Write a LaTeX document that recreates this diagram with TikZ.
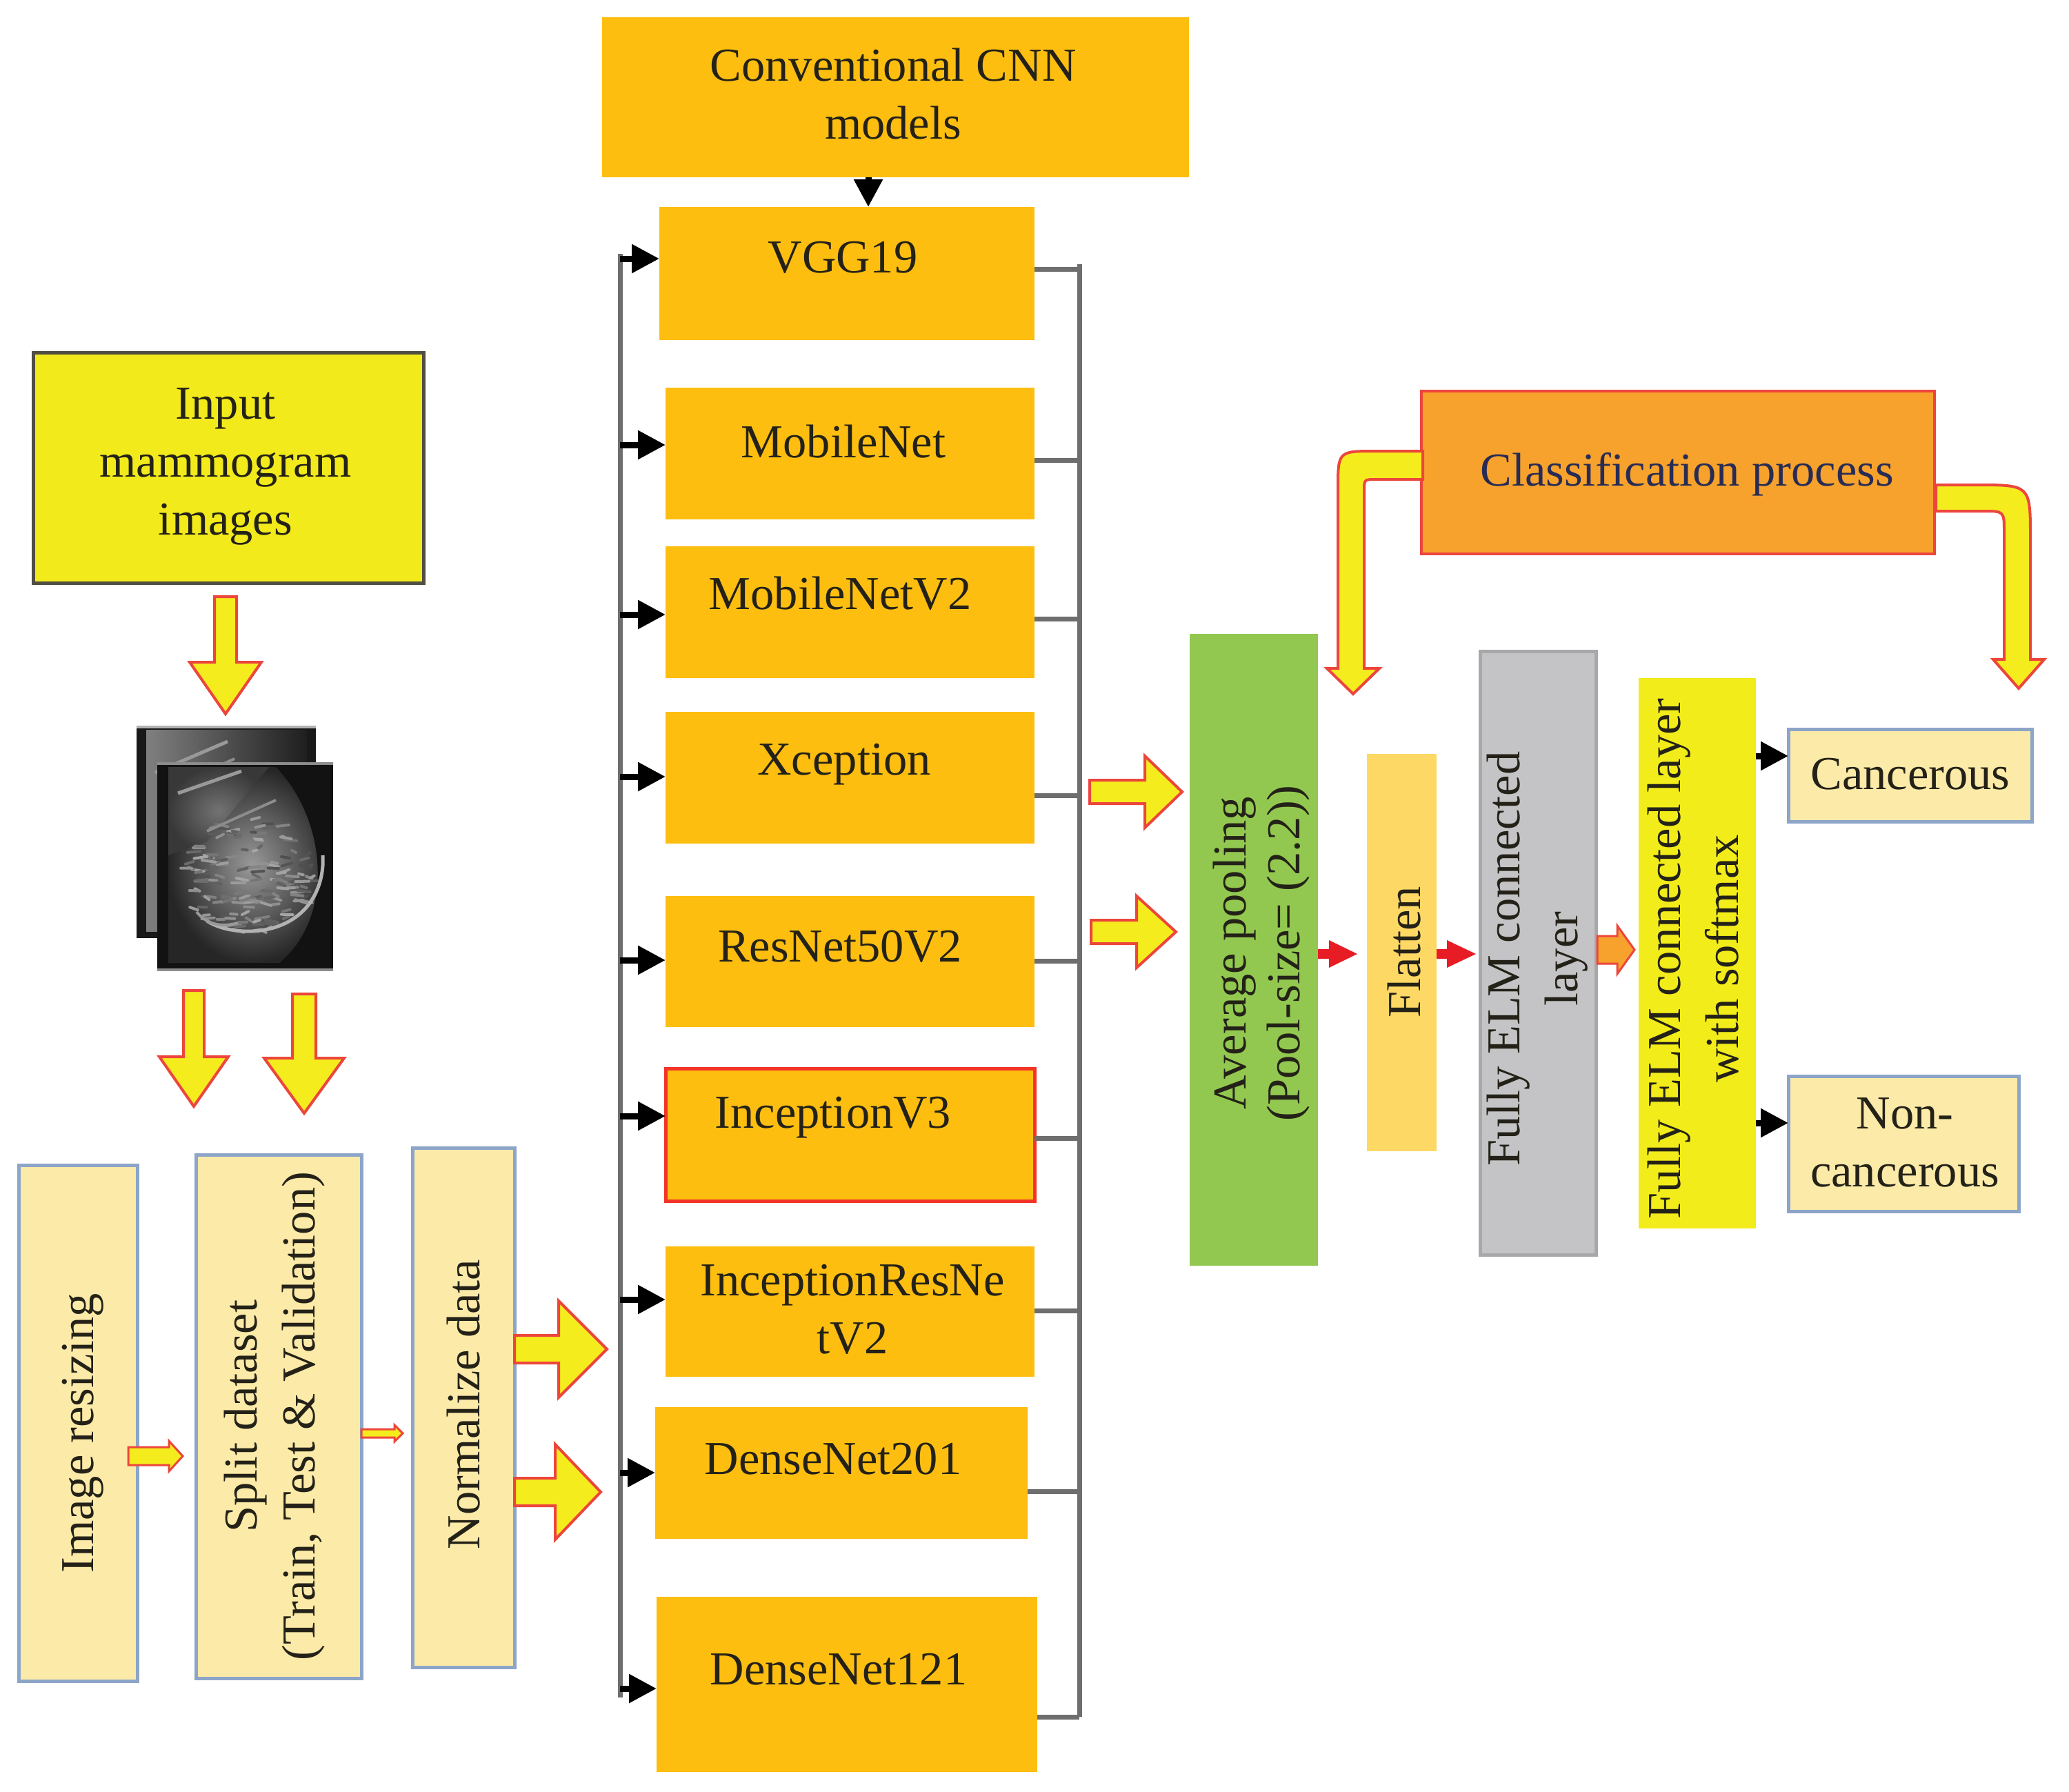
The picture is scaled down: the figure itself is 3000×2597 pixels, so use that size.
\documentclass[tikz,border=0pt]{standalone}
\usepackage{fontspec}
\setmainfont{Liberation Serif}
\usetikzlibrary{arrows.meta}
\definecolor{cnnc}{RGB}{253,190,16}
\definecolor{inyel}{RGB}{242,234,26}
\definecolor{inbord}{RGB}{80,78,66}
\definecolor{lyel}{RGB}{252,234,168}
\definecolor{lbord}{RGB}{140,165,200}
\definecolor{grn}{RGB}{146,200,80}
\definecolor{flat}{RGB}{254,216,100}
\definecolor{elmg}{RGB}{196,196,198}
\definecolor{elmb}{RGB}{168,168,170}
\definecolor{sfy}{RGB}{242,236,26}
\definecolor{clso}{RGB}{247,162,44}
\definecolor{redb}{RGB}{236,70,60}
\definecolor{redbox}{RGB}{242,52,40}
\definecolor{arry}{RGB}{245,236,30}
\definecolor{linec}{RGB}{110,110,110}
\definecolor{tx}{RGB}{36,34,24}
\definecolor{navy}{RGB}{40,44,85}
\definecolor{redarr}{RGB}{232,28,36}
\newcommand\myHarrow[7]{% style, x1, y, x2, shaft half, head half, head len
 \filldraw[#1] (#2,#3-#5) -- (#4-#7,#3-#5) -- (#4-#7,#3-#6) -- (#4,#3) -- (#4-#7,#3+#6) -- (#4-#7,#3+#5) -- (#2,#3+#5) -- cycle;}
\newcommand\myVarrow[7]{% style, x, y1, y2, shaft half, head half, head len
 \filldraw[#1] (#2-#5,#3) -- (#2-#5,#4-#7) -- (#2-#6,#4-#7) -- (#2,#4) -- (#2+#6,#4-#7) -- (#2+#5,#4-#7) -- (#2+#5,#3) -- cycle;}
\newcommand\myBox[6]{% name, style, x1, y1, x2, y2
 \node[#2, minimum width={(#5)-(#3)}, minimum height={(#6)-(#4)}] (#1) at ({((#3)+(#5))/2},{((#4)+(#6))/2}) {};}
\begin{document}
\begin{tikzpicture}[x=1pt,y=-1pt,
 box/.style={inner sep=0pt,outer sep=0pt,rectangle},
 cnn/.style={box,fill=cnnc},
 inbox/.style={box,fill=inyel,draw=inbord,line width=5pt},
 lbox/.style={box,fill=lyel,draw=lbord,line width=5pt},
 avgbox/.style={box,fill=grn},
 flatbox/.style={box,fill=flat},
 elmbox/.style={box,fill=elmg,draw=elmb,line width=5pt},
 softbox/.style={box,fill=sfy},
 clsbox/.style={box,fill=clso,draw=redb,line width=4pt},
 txt/.style={text=tx,font=\fontsize{68.5}{84}\selectfont,align=center,inner sep=0pt},
 vtxt/.style={txt,rotate=90},
 blk/.style={draw=black,line width=9pt,-{Triangle[length=40pt,width=40pt]}},
 conn/.style={draw=linec,line width=7pt},
 barrow/.style={fill=arry,draw=redb,line width=4pt,line join=miter},
 thinbarrow/.style={fill=arry,draw=redb,line width=3pt,line join=miter},
 redsolid/.style={fill=redarr,draw=none},
 orarrow/.style={fill=clso,draw=redb,line width=3pt,line join=miter},
]
\useasboundingbox (0,0) rectangle (3000,2597);
\fill[white] (0,0) rectangle (3000,2597);

% ---------- left column ----------
\myBox{input}{inbox}{48}{511}{614}{845}
\myBox{resize}{lbox}{27}{1689}{199}{2437}
\myBox{split}{lbox}{284}{1674}{524}{2433}
\myBox{norm}{lbox}{598}{1664}{746}{2417}

% mammogram images
\pgfmathsetseed{11}
\fill[black!90] (198,1052) rectangle (458,1360);
\shade[left color=black!50, right color=black!88] (212,1058) rectangle (445,1350);
\draw[black!30,line width=4pt] (198,1054) -- (458,1054);
\draw[black!40,line width=5pt] (225,1120) -- (330,1075);
\draw[black!45,line width=4pt] (230,1150) -- (340,1100);
\fill[black!93] (228,1105) rectangle (483,1408);
\draw[black!45,line width=4pt] (228,1107) -- (483,1107);
\draw[black!45,line width=4pt] (228,1406) -- (483,1406);
\shade[inner color=black!40, outer color=black!85] (244,1112) -- (400,1112) .. controls (475,1190) and (485,1330) .. (405,1396) -- (244,1396) -- cycle;
\shade[inner color=black!55, outer color=black!78] (244,1112) -- (390,1112) -- (300,1220) -- (244,1240) -- cycle;
\foreach \i in {1,...,160}{
  \pgfmathsetmacro{\ang}{360*rnd}
  \pgfmathsetmacro{\rr}{sqrt(rnd)}
  \pgfmathsetmacro{\px}{355+95*\rr*cos(\ang)}
  \pgfmathsetmacro{\py}{1270+85*\rr*sin(\ang)}
  \pgfmathsetmacro{\gr}{35+35*rnd}
  \pgfmathsetmacro{\dx}{6+14*rnd}
  \pgfmathsetmacro{\dy}{-5+10*rnd}
  \draw[black!\gr,line width=4pt,line cap=round] (\px,\py) -- ++(\dx,\dy);
}
\draw[black!40,line width=5pt] (258,1150) -- (350,1118);
\draw[black!45,line width=4pt] (300,1205) -- (400,1160);
\draw[black!30,line width=5pt] (300,1335) .. controls (330,1355) and (400,1360) .. (440,1320) .. controls (460,1300) and (470,1270) .. (468,1240);
\draw[black!40,line width=4pt] (285,1322) .. controls (300,1340) and (320,1345) .. (345,1338);

% yellow block arrows (left)
\myVarrow{barrow}{327}{865}{1035}{16}{52}{75}
\myVarrow{barrow}{281}{1436}{1604}{15}{50}{72}
\myVarrow{barrow}{441}{1441}{1614}{17}{58}{80}
\myHarrow{thinbarrow}{186}{2111}{265}{13}{22}{20}
\myHarrow{thinbarrow}{524}{2078}{584}{6}{12}{12}
\myHarrow{barrow}{746}{1956}{880}{20}{70}{70}
\myHarrow{barrow}{746}{2163}{871}{20}{69}{66}

% ---------- CNN column ----------
\myBox{cnntop}{cnn}{873}{25}{1724}{257}
\myBox{vgg}{cnn}{956}{300}{1500}{493}
\myBox{mob}{cnn}{965}{562}{1500}{753}
\myBox{mobb}{cnn}{965}{792}{1500}{983}
\myBox{xcep}{cnn}{965}{1032}{1500}{1223}
\myBox{res}{cnn}{965}{1299}{1500}{1489}
\myBox{incv}{cnn,draw=redbox,line width=5pt}{965}{1549}{1500}{1741}
\myBox{incres}{cnn}{965}{1807}{1500}{1996}
\myBox{dtwo}{cnn}{950}{2040}{1490}{2231}
\myBox{done}{cnn}{952}{2315}{1504}{2569}

\coordinate (lt) at (899,368);
\coordinate (lb) at (899,2461);
\coordinate (rt) at (1565,383);
\coordinate (rb) at (1565,2489);
\draw[conn] (lt) -- (lb);
\draw[conn] (rt) -- (rb);

\draw[blk] (cnntop.south -| 1259,0) -- (vgg.north -| 1259,0);

\draw[blk] (lt |- 0,375) -- (vgg.west |- 0,375);
\draw[blk] (lt |- 0,645) -- (mob.west |- 0,645);
\draw[blk] (lt |- 0,891) -- (mobb.west |- 0,891);
\draw[blk] (lt |- 0,1126) -- (xcep.west |- 0,1126);
\draw[blk] (lt |- 0,1392) -- (res.west |- 0,1392);
\draw[blk] (lt |- 0,1618) -- (incv.west |- 0,1618);
\draw[blk] (lt |- 0,1884) -- (incres.west |- 0,1884);
\draw[blk] (lt |- 0,2135) -- (dtwo.west |- 0,2135);
\draw[blk] (lt |- 0,2448) -- (done.west |- 0,2448);

\draw[conn] (vgg.east |- 0,390) -- (rt |- 0,390);
\draw[conn] (mob.east |- 0,667) -- (rt |- 0,667);
\draw[conn] (mobb.east |- 0,897) -- (rt |- 0,897);
\draw[conn] (xcep.east |- 0,1153) -- (rt |- 0,1153);
\draw[conn] (res.east |- 0,1393) -- (rt |- 0,1393);
\draw[conn] (incv.east |- 0,1650) -- (rt |- 0,1650);
\draw[conn] (incres.east |- 0,1900) -- (rt |- 0,1900);
\draw[conn] (dtwo.east |- 0,2162) -- (rt |- 0,2162);
\draw[conn] (done.east |- 0,2489) -- (rb);

\myHarrow{barrow}{1580}{1148}{1714}{17}{52}{54}
\myHarrow{barrow}{1582}{1351}{1705}{17}{52}{57}

% ---------- right part ----------
\myBox{avg}{avgbox}{1725}{919}{1911}{1835}
\myBox{flatten}{flatbox}{1982}{1093}{2083}{1669}
\myBox{elm}{elmbox}{2146}{944}{2314}{1819}
\myBox{soft}{softbox}{2376}{983}{2546}{1781}
\myBox{canc}{lbox}{2593}{1057}{2946}{1191}
\myBox{nonc}{lbox}{2593}{1560}{2927}{1756}
\myBox{cls}{clsbox}{2061}{567}{2805}{803}

\myHarrow{redsolid}{1911}{1383}{1968}{7}{20}{41}
\myHarrow{redsolid}{2083}{1383}{2140}{7}{20}{42}
\myHarrow{orarrow}{2316}{1377}{2370}{20}{35}{25}

\draw[blk] (soft.east |- 0,1096) -- (canc.west |- 0,1096);
\draw[blk] (soft.east |- 0,1628) -- (nonc.west |- 0,1628);

% curved arrows from classification process
\filldraw[barrow] (2063,654) -- (1995,654) .. controls (1940,654) .. (1940,709) -- (1940,969) -- (1924,969) -- (1962,1006) -- (2000,969) -- (1978,969) -- (1978,712) .. controls (1978,695) .. (1995,695) -- (2063,695) -- cycle;
\filldraw[barrow] (2807,703) -- (2866,703) .. controls (2944,703) .. (2944,781) -- (2944,956) -- (2964,956) -- (2927,998) -- (2890,956) -- (2906,956) -- (2906,772) .. controls (2906,741) .. (2875,741) -- (2807,741) -- cycle;

% ---------- texts ----------
\node[txt] (inputT) at (327,676) {Input\\mammogram\\images};
\node[vtxt] (resizeT) at (120,2078) {Image resizing};
\node[vtxt] (splitT) at (398,2053) {Split dataset\\(Train, Test \& Validation)};
\node[vtxt] (normT) at (672,2036) {Normalize data};

\node[txt] (cnntopT) at (1295,136) {Conventional CNN\\models};
\node[txt] (vggT) at (1222,373) {VGG19};
\node[txt] (mobT) at (1223,640) {MobileNet};
\node[txt] (mobbT) at (1218,860) {MobileNetV2};
\node[txt] (xcepT) at (1224,1108) {Xception};
\node[txt] (resT) at (1218,1372) {ResNet50V2};
\node[txt] (incvT) at (1208,1620) {InceptionV3};
\node[txt] (incresT) at (1236,1898) {InceptionResNe\\tV2};
\node[txt] (dtwoT) at (1208,2115) {DenseNet201};
\node[txt] (doneT) at (1216,2420) {DenseNet121};

\node[vtxt,font=\fontsize{68.5}{78}\selectfont] (avgT) at (1829,1382) {Average pooling\\(Pool-size= (2.2))};
\node[vtxt] (flattenT) at (2036,1380) {Flatten};
\node[vtxt] (elmT) at (2229,1390) {Fully ELM connected\\layer};
\node[vtxt] (softT) at (2455,1390) {Fully ELM connected layer\\with softmax};
\node[txt] (cancT) at (2770,1122) {Cancerous};
\node[txt] (noncT) at (2762,1656) {Non-\\cancerous};
\node[txt,text=navy] (clsT) at (2446,688) {Classification process};
\end{tikzpicture}
\end{document}
